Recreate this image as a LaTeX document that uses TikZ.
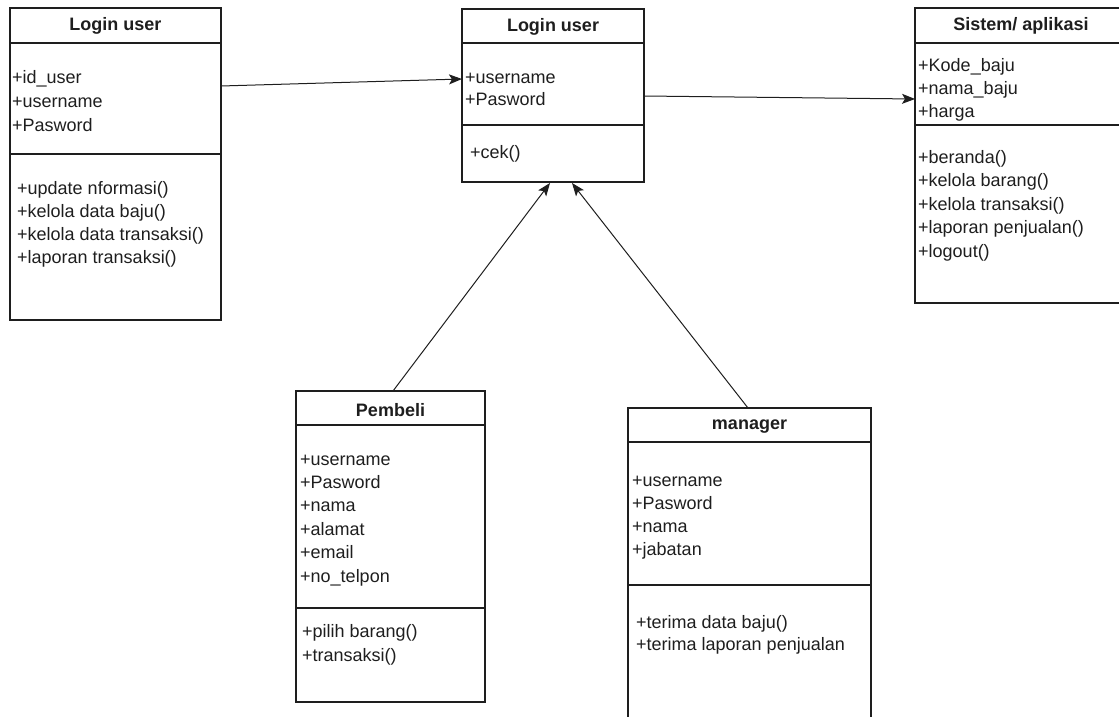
\documentclass[tikz,border=0pt]{standalone}
\usepackage{fontspec}
\setmainfont{Liberation Sans}
\usetikzlibrary{arrows.meta}
\definecolor{ink}{HTML}{1E1E1E}
\begin{document}
\begin{tikzpicture}[x=1pt,y=-1pt,
  umlbox/.style={draw=ink, line width=1.4pt, anchor=north west, inner sep=0pt, outer sep=0pt},
  sep/.style={draw=ink, line width=1.4pt},
  title/.style={font=\fontsize{18}{22}\selectfont\bfseries, text=ink, inner sep=0pt},
  txt/.style={font=\fontsize{18}{22}\selectfont, text=ink, anchor=base west, inner sep=0pt},
  conn/.style={draw=ink, line width=1pt, -{Stealth[length=13pt,width=10pt,inset=3pt]}}]
\useasboundingbox (0,0) rectangle (1119,717);
\clip (0,0) rectangle (1119,717);

% Box 1: Login user (left)
\node[umlbox, minimum width=211pt, minimum height=312pt] (b1) at (10,8) {};
\draw[sep] ([yshift=-35pt]b1.north west) -- ([yshift=-35pt]b1.north east);
\draw[sep] ([yshift=-146pt]b1.north west) -- ([yshift=-146pt]b1.north east);
\node[title] (b1t) at (115.5,26) {Login user};
\foreach \t [count=\i] in {+id\_user,+username,+Pasword}
  \node[txt] (b1a\i) at (12,{84+23.5*(\i-1)}) {\t};
\foreach \t [count=\i] in {+update nformasi(),+kelola data baju(),+kelola data transaksi(),+laporan transaksi()}
  \node[txt] (b1m\i) at (17,{194+23*(\i-1)}) {\t};

% Box 2: Login user (centre)
\node[umlbox, minimum width=182pt, minimum height=173pt] (b2) at (462,9) {};
\draw[sep] ([yshift=-34pt]b2.north west) -- ([yshift=-34pt]b2.north east);
\draw[sep] ([yshift=-116pt]b2.north west) -- ([yshift=-116pt]b2.north east);
\node[title] (b2t) at (553,27) {Login user};
\foreach \t [count=\i] in {+username,+Pasword}
  \node[txt] (b2a\i) at (465,{83+23*(\i-1)}) {\t};
\node[txt] (b2m1) at (470,158) {+cek()};

% Box 3: Sistem/ aplikasi
\node[umlbox, minimum width=212pt, minimum height=295pt] (b3) at (915,8) {};
\draw[sep] ([yshift=-35pt]b3.north west) -- ([yshift=-35pt]b3.north east);
\draw[sep] ([yshift=-117pt]b3.north west) -- ([yshift=-117pt]b3.north east);
\node[title] (b3t) at (1021,26) {Sistem/ aplikasi};
\foreach \t [count=\i] in {+Kode\_baju,+nama\_baju,+harga}
  \node[txt] (b3a\i) at (918,{71+23*(\i-1)}) {\t};
\foreach \t [count=\i] in {+beranda(),+kelola barang(),+kelola transaksi(),+laporan penjualan(),+logout()}
  \node[txt] (b3m\i) at (918,{163+23.6*(\i-1)}) {\t};

% Box 4: Pembeli
\node[umlbox, minimum width=189pt, minimum height=311pt] (b4) at (296,391) {};
\draw[sep] ([yshift=-34pt]b4.north west) -- ([yshift=-34pt]b4.north east);
\draw[sep] ([yshift=-217pt]b4.north west) -- ([yshift=-217pt]b4.north east);
\node[title] (b4t) at (390.5,410) {Pembeli};
\foreach \t [count=\i] in {+username,+Pasword,+nama,+alamat,+email,+no\_telpon}
  \node[txt] (b4a\i) at (300,{465+23.4*(\i-1)}) {\t};
\foreach \t [count=\i] in {+pilih barang(),+transaksi()}
  \node[txt] (b4m\i) at (302,{637+24*(\i-1)}) {\t};

% Box 5: manager
\node[umlbox, minimum width=243pt, minimum height=330pt] (b5) at (628,408) {};
\draw[sep] ([yshift=-34pt]b5.north west) -- ([yshift=-34pt]b5.north east);
\draw[sep] ([yshift=-177pt]b5.north west) -- ([yshift=-177pt]b5.north east);
\node[title] (b5t) at (749.5,427) {manager};
\foreach \t [count=\i] in {+username,+Pasword,+nama,+jabatan}
  \node[txt] (b5a\i) at (632,{486+23*(\i-1)}) {\t};
\foreach \t [count=\i] in {+terima data baju(),+terima laporan penjualan}
  \node[txt] (b5m\i) at (636,{628+22*(\i-1)}) {\t};

% Connectors
\draw[conn] ([yshift=-78pt]b1.north east) -- ([yshift=-70pt]b2.north west);
\draw[conn] ([yshift=-87pt]b2.north east) -- ([yshift=-91pt]b3.north west);
\draw[conn] ([xshift=97pt]b4.north west) -- ([xshift=88pt,yshift=-1pt]b2.south west);
\draw[conn] ([xshift=120pt]b5.north west) -- ([xshift=110pt,yshift=-1pt]b2.south west);
\end{tikzpicture}
\end{document}
